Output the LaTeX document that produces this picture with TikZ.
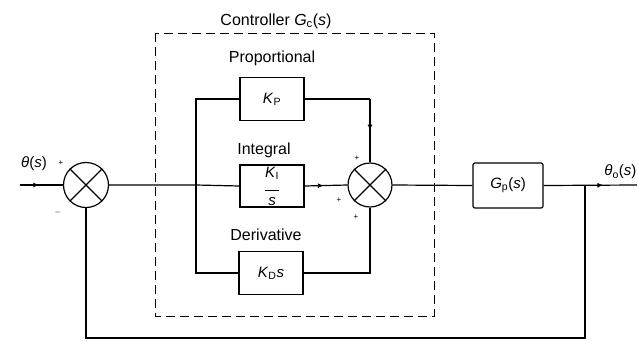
\documentclass[tikz,border=0pt]{standalone}
\usepackage{fontspec}
\setmainfont{Liberation Sans}
\usetikzlibrary{arrows.meta,decorations.markings,calc}
\begin{document}
\begin{tikzpicture}[x=1pt,y=-1pt,
  line width=1.2pt,
  every node/.style={font=\fontsize{15}{17}\selectfont},
  blk/.style={draw, minimum width=64pt, minimum height=43pt, inner sep=0pt},
  summer/.style={draw, circle, minimum size=45pt, inner sep=0pt,
    append after command={(\tikzlastnode.north west) edge[draw] (\tikzlastnode.south east)
                          (\tikzlastnode.north east) edge[draw] (\tikzlastnode.south west)}},
  midarrow/.style={postaction={decorate},
    decoration={markings, mark=at position #1 with {\arrow{Latex[length=6pt,width=5pt]}}}},
  midarrow/.default=0.5,
  sign/.style={font=\fontsize{8}{9}\selectfont, inner sep=0pt},
  lbl/.style={inner sep=0pt, font=\fontsize{16}{18}\selectfont},
  ctrlbox/.style={draw, dash pattern=on 9pt off 5pt, line width=1pt}
]
\useasboundingbox (0,0) rectangle (638,341);

% controller dashed region
\draw[ctrlbox] (155,33) rectangle (434,316);
\node[lbl] (title) at (276,21) {Controller \textit{G}\textsubscript{c}(\textit{s})};

% nodes
\coordinate (in) at (20,185);
\node[summer] (s1) at (86,185) {};
\coordinate (br1) at (196,185);
\node[blk] (kp) at (272,99) {\textit{K}\textsubscript{P}};
\node[blk, minimum height=42pt] (ki) at (272,186) {};
\node[inner sep=0pt, align=center] (kit) at (ki.center)
  {\textit{K}\textsubscript{I}\\[-3pt]\rule{14pt}{0.8pt}\\[-3pt]\textit{s}};
\node[blk] (kd) at (271,273) {\textit{K}\textsubscript{D}\textit{s}};
\node[summer, minimum size=44pt] (s2) at (370,185) {};
\node[blk, minimum width=70pt, minimum height=45pt, rounded corners=2pt] (gp) at (508,185.5) {\textit{G}\textsubscript{p}(\textit{s})};
\coordinate (br2) at (585,185);
\coordinate (out) at (637,185);
\coordinate (fbR) at (585,338);
\coordinate (fbL) at (s1 |- fbR);
\coordinate (pc) at (s2 |- kp);

% labels
\node[lbl] (lp) at (272,58) {Proportional};
\node[lbl] (li) at (264,150) {Integral};
\node[lbl] (ld) at (266,235) {Derivative};
\node[lbl, font=\fontsize{15}{17}\selectfont] (lin) at (34,164) {\textit{θ}(\textit{s})};
\node[lbl, font=\fontsize{15}{17}\selectfont, anchor=east] (lout) at (637,172) {\textit{θ}\textsubscript{o}(\textit{s})};

% signs
\node[sign] at (61,163) {+};
\node[sign] at (58,212) {$-$};
\node[sign] at (357,158) {+};
\node[sign] at (339,200) {+};
\node[sign] at (356,217) {+};

% connectors
\draw[midarrow=0.45] (in) -- (s1.west);
\draw (s1.east) -- (br1) -- (ki.west);
\draw (br1) |- (kp.west);
\draw (br1) |- (kd.west);
\draw (kp.east) -- (pc);
\draw[midarrow=0.5] (pc) -- (s2.north);
\draw[midarrow=0.45] (ki.east) -- (s2.west);
\draw (kd.east) -| (s2.south);
\draw (s2.east) -- (gp.west);
\draw[midarrow=0.64] (gp.east) -- (out);
\draw (br2) -- (fbR) -- (fbL) -- (s1.south);
\end{tikzpicture}
\end{document}
